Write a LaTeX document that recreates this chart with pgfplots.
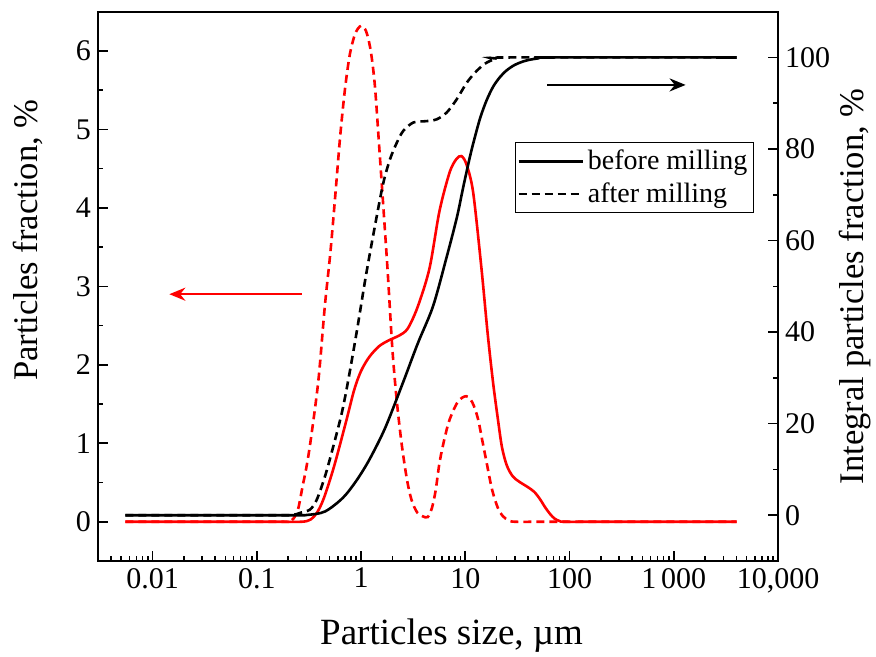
\documentclass[border=0pt]{standalone}
\usepackage{fontspec}
\setmainfont{Liberation Serif}
\usepackage{pgfplots}
\usepackage{pgfplotstable}
\pgfplotsset{compat=1.18}
\usetikzlibrary{arrows.meta}

% differential distributions, %
\pgfplotstableread{
x y
0.0055 0
0.15 0
0.27 0
0.33 0.03
0.38 0.12
0.44 0.30
0.55 0.70
0.72 1.28
0.86 1.68
1.0 1.92
1.2 2.1
1.5 2.24
1.9 2.32
2.3 2.37
2.8 2.46
3.5 2.74
4.54 3.23
5.66 3.96
7.07 4.45
8.2 4.62
9.2 4.66
10.3 4.55
11.9 4.2
14.3 3.23
16.4 2.4
18.5 1.77
20.6 1.3
22.5 0.95
25 0.72
28.5 0.58
33 0.51
40 0.44
46 0.38
52 0.29
58 0.19
65 0.1
72 0.04
80 0.01
90 0
200 0
4000 0
}\beforediff

\pgfplotstableread{
x y
0.0055 0
0.15 0
0.2 0
0.225 0.04
0.25 0.17
0.275 0.45
0.3 0.7
0.33 1.05
0.39 1.8
0.45 2.75
0.51 3.45
0.57 4.2
0.63 4.9
0.7 5.5
0.78 5.95
0.88 6.22
1.0 6.32
1.12 6.25
1.24 6.0
1.36 5.55
1.5 4.75
1.65 3.95
1.8 3.2
2.0 2.2
2.2 1.55
2.45 1.0
2.75 0.55
3.05 0.28
3.45 0.12
3.9 0.07
4.37 0.06
4.8 0.18
5.2 0.4
5.66 0.75
6.3 1.05
7.07 1.3
8.5 1.53
10.2 1.6
11.7 1.52
13.2 1.32
14.5 1.05
15.9 0.78
18.0 0.42
20.5 0.18
23 0.07
26 0.02
30 0
60 0
4000 0
}\afterdiff

% integral distributions, %
\pgfplotstableread{
x y
0.0055 0
0.2 0
0.3 0.05
0.45 0.8
0.67 3.8
0.9 7.5
1.2 12.1
1.7 19
2.52 28.9
3.5 37.5
4.9 45.6
6.56 56
8.30 65
9.61 71.9
11.14 78.5
12.5 83
14 87
16 90.6
18.5 93.6
21.5 95.7
25 97.2
30 98.4
38 99.3
50 99.8
65 100
4000 100
}\beforeint

\pgfplotstableread{
x y
0.0055 0
0.15 0
0.22 0.05
0.261 0.52
0.325 1.25
0.377 3.43
0.452 8.53
0.543 15.09
0.655 22.39
0.757 29.67
0.918 40.6
1.12 52.6
1.418 65.4
1.641 72.7
1.90 77.8
2.207 81.4
2.55 84.0
3.186 85.8
4.285 86.1
5.34 86.5
6.656 88.0
8.30 90.9
10.35 94.5
12.91 97.1
16.11 98.9
20.1 99.7
25 100
4000 100
}\afterint

\begin{document}
\begin{tikzpicture}
\begin{axis}[
    name=main,
    scale only axis, width=340pt, height=274.65pt,
    xmode=log, xmin=0.003, xmax=10000,
    ymin=-0.5, ymax=6.5,
    tick align=inside, major tick length=5pt, minor tick length=2.5pt,
    every tick/.append style={black, line width=0.8pt},
    tick label style={font=\fontsize{15}{17}\selectfont},
    /pgf/number format/assume math mode=true,
    axis line style={line width=1pt},
    xtick={0.01,0.1,1,10,100,1000,10000},
    xticklabels={0.01,0.1,1,10,100,1\,000,{10,000}},
    minor xtick={0.003,0.004,0.005,0.006,0.007,0.008,0.009,
      0.02,0.03,0.04,0.05,0.06,0.07,0.08,0.09,
      0.2,0.3,0.4,0.5,0.6,0.7,0.8,0.9,
      2,3,4,5,6,7,8,9,20,30,40,50,60,70,80,90,
      200,300,400,500,600,700,800,900,
      2000,3000,4000,5000,6000,7000,8000,9000},
    ytick={0,1,2,3,4,5,6},
    minor ytick={0.5,1.5,2.5,3.5,4.5,5.5},
    xtick pos=left, ytick pos=left,
    xlabel={Particles size, µm},
    ylabel={Particles fraction, \%},
    xlabel style={at={(axis description cs:0.52,-0.135)}, anchor=center,
      font=\fontsize{18.5}{21}\selectfont},
    ylabel style={at={(axis description cs:-0.103,0.584)}, anchor=center,
      font=\fontsize{17.3}{20}\selectfont},
]
\addplot[red, line width=1.3pt, smooth] table {\beforediff};
\addplot[red, line width=1.3pt, smooth, dash pattern=on 4pt off 2.5pt] table {\afterdiff};
\draw[red, line width=1.3pt, -{Stealth[length=8pt,width=6.5pt]}]
    (axis cs:0.27,2.9) -- (axis cs:0.0145,2.9);
\end{axis}

\begin{axis}[
    scale only axis, width=340pt, height=274.65pt,
    xmode=log, xmin=0.003, xmax=10000,
    ymin=-10, ymax=110,
    hide x axis,
    axis y line*=right,
    tick align=inside, major tick length=5pt, minor tick length=2.5pt,
    every tick/.append style={black, line width=0.8pt},
    tick label style={font=\fontsize{15}{17}\selectfont},
    /pgf/number format/assume math mode=true,
    axis line style={line width=1pt},
    ytick={0,20,40,60,80,100},
    minor ytick={10,30,50,70,90},
    ylabel={Integral particles fraction, \%},
    ylabel style={at={(axis description cs:1.113,0.5)}, anchor=center,
      font=\fontsize{17.3}{20}\selectfont},
    legend style={at={(axis description cs:0.613,0.762)}, anchor=north west,
      draw=black, line width=0.5pt, font=\fontsize{14}{16}\selectfont,
      inner xsep=1pt, inner ysep=1.5pt, row sep=1pt, cells={anchor=west}},
    legend image code/.code={\draw[#1] (0pt,0pt) -- (32pt,0pt);},
]
\addplot[black, line width=1.3pt, smooth] table {\beforeint};
\addlegendentry{before milling}
\addplot[black, line width=1.3pt, smooth, dash pattern=on 4pt off 2.5pt] table {\afterint};
\addlegendentry{after milling}
\draw[black, line width=1.3pt, -{Stealth[length=8pt,width=6.5pt]}]
    (axis cs:61,94) -- (axis cs:1300,94);
\end{axis}
\pgfresetboundingbox
\path[use as bounding box] ([xshift=-49pt,yshift=-48pt]main.south west)
    rectangle ([xshift=49pt,yshift=5.85pt]main.north east);
\end{tikzpicture}
\end{document}
